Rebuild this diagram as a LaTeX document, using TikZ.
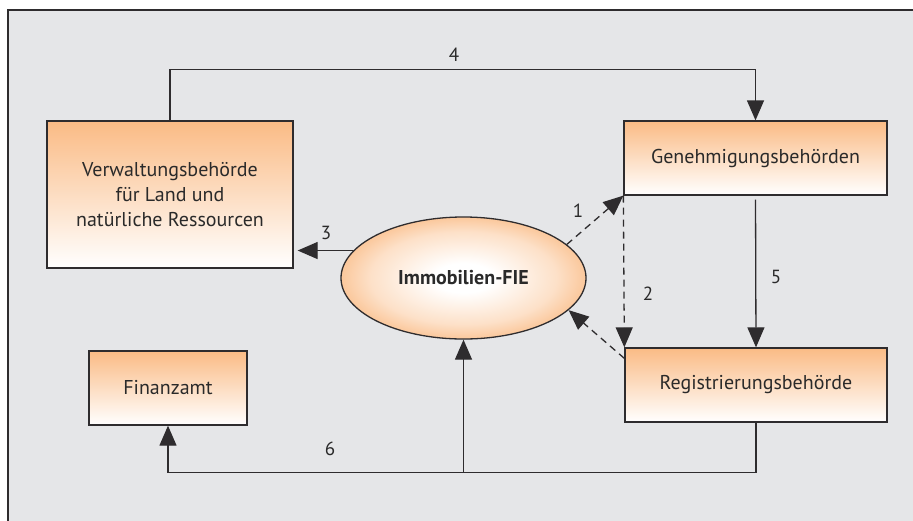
\documentclass[tikz,border=0pt]{standalone}
\usepackage{fontspec}
\setmainfont{PT Sans}
\usetikzlibrary{arrows.meta,shapes.geometric}
\definecolor{frameback}{HTML}{E5E6E8}
\definecolor{orangetop}{HTML}{FABB85}
\definecolor{linegray}{HTML}{2E2C2E}
\definecolor{txt}{HTML}{2A2A2A}
\pgfdeclareradialshading{ellshade}{\pgfpoint{0bp}{0bp}}{%
  color(0bp)=(white); color(6bp)=(white); color(19bp)=(orangetop!45!white);
  color(28bp)=(orangetop); color(50bp)=(orangetop)}
\tikzset{
  box/.style={draw=linegray, line width=1.3pt, top color=orangetop, bottom color=white,
    text=txt, font=\fontsize{20}{25}\selectfont, align=center, inner sep=0pt},
  conn/.style={draw=linegray, line width=1.3pt},
  arr/.style={conn, -{Triangle[length=20pt,width=17pt]}},
  darr/.style={arr, dash pattern=on 7pt off 5pt},
  lbl/.style={text=txt, font=\fontsize{19}{22}\selectfont, inner sep=0pt}
}
\begin{document}
\begin{tikzpicture}[x=1pt,y=-1pt]
\useasboundingbox (0,0) rectangle (913,520);
\fill[white] (0,0) rectangle (913,520);
\fill[frameback] (8,10) rectangle (920,530);
\draw[conn, line width=1.2pt] (8,530) -- (8,10) -- (920,10);

\node[box, minimum width=246pt, minimum height=147pt] (verw) at (170,194.5)
  {Verwaltungsbehörde\\für Land und\\natürliche Ressourcen};
\node[box, minimum width=263pt, minimum height=74pt] (gen) at (755.5,158) {Genehmigungsbehörden};
\node[box, minimum width=262pt, minimum height=74pt] (reg) at (756,385) {Registrierungsbehörde};
\node[box, minimum width=158pt, minimum height=74pt] (fin) at (168,388) {Finanzamt};
\node[draw=linegray, line width=1.3pt, ellipse, shading=ellshade,
  minimum width=245pt, minimum height=122pt, inner sep=0pt, text=txt,
  font=\fontsize{20}{22}\selectfont\bfseries] (ell) at (463.5,278) {Immobilien-FIE};

% 4
\draw[arr] (verw.north) -- ++(0,-51) -| (gen.north);
% 3
\draw[arr, shorten >=4pt] (ell.166) -- (ell.166 -| verw.east);
% 1
\draw[darr] (ell.18) -- (gen.south west);
% 2
\draw[darr] (gen.south west) -- (reg.north west);
% reg -> ell
\draw[darr] ([yshift=-11pt]reg.north west) -- (ell.-17);
% 5
\draw[arr, shorten <=4pt] (gen.south) -- (reg.north);
% 6
\draw[arr] (reg.south) -- ++(0,50) coordinate (c6) -| (fin.south);
\draw[arr] (c6 -| ell.south) -- (ell.south);

\node[lbl] (l4) at (454,55) {4};
\node[lbl] (l3) at (326,233) {3};
\node[lbl] (l1) at (578,211) {1};
\node[lbl] (l2) at (648,294) {2};
\node[lbl] (l5) at (776,277) {5};
\node[lbl] (l6) at (330,449) {6};
\end{tikzpicture}
\end{document}
